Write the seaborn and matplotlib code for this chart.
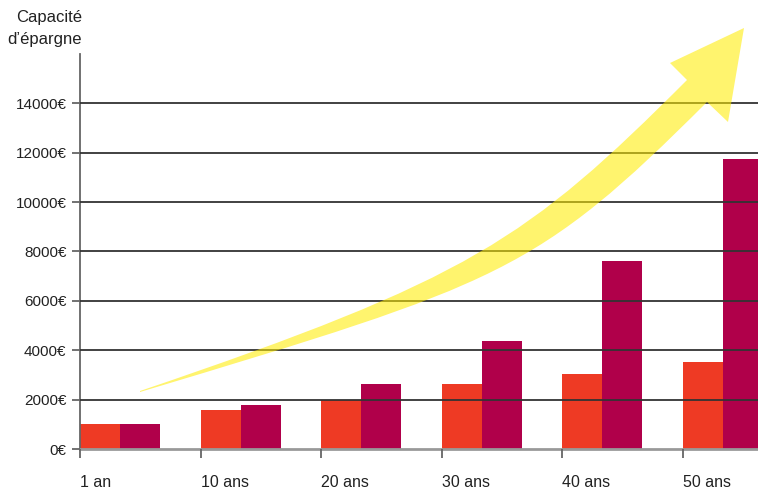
import numpy as np
import pandas as pd
import seaborn as sns
import matplotlib.pyplot as plt
from matplotlib.path import Path
from matplotlib.patches import PathPatch
from matplotlib.transforms import Affine2D

# Données
periodes = ['1 an', '10 ans', '20 ans', '30 ans', '40 ans', '50 ans']
serie_a = [1000, 1600, 2000, 2630, 3030, 3520]
serie_b = [1000, 1780, 2630, 4370, 7600, 11740]
y_ticks = [0, 2000, 4000, 6000, 8000, 10000, 12000, 14000]
y_labels = [f'{v}€' for v in y_ticks]

df = pd.DataFrame({
    'periode': periodes * 2,
    'valeur': serie_a + serie_b,
    'serie': ['a'] * len(periodes) + ['b'] * len(periodes),
})

sns.set_style('white')
plt.rcParams['font.family'] = ['Liberation Sans', 'DejaVu Sans']

fig = plt.figure(figsize=(7.58, 4.90), dpi=100)
ax = fig.add_axes([80 / 758, 41 / 490, 678 / 758, 395 / 490])

bar_w = 0.332
sns.barplot(data=df, x='periode', y='valeur', hue='serie',
            palette=['#ee3a24', '#b0004a'], width=2 * bar_w, gap=0,
            saturation=1, legend=False, linewidth=0, zorder=1, ax=ax)

ax.set_xlim(-bar_w, -bar_w + 678 / 120.6)
ax.set_ylim(0, 16000)
ax.set_xticks(np.arange(len(periodes)) - bar_w, periodes, ha='left')
ax.set_yticks(y_ticks, y_labels)
ax.set_xlabel('')
ax.set_ylabel('')

ax.set_axisbelow(False)
ax.yaxis.grid(True, color='#333333', linewidth=1.3)
ax.get_ygridlines()[0].set_visible(False)

sns.despine(ax=ax)
ax.spines['left'].set_color('#666666')
ax.spines['left'].set_linewidth(1.3)
ax.spines['bottom'].set_color('#999999')
ax.spines['bottom'].set_linewidth(2)

ax.tick_params(axis='x', length=6.5, width=1.3, color='#666666', pad=12.5,
               labelsize=11.5, labelcolor='#222222', bottom=True)
ax.tick_params(axis='y', length=5.8, width=1.3, color='#666666', pad=4,
               labelsize=11, labelcolor='#222222', left=True)

fig.text(82 / 758, 1 - 10 / 490, 'Capacité\nd’épargne', ha='right', va='top',
         fontsize=12, color='#222222', linespacing=1.55)

# flèche jaune décorative (coordonnées en pixels de l'image)
verts = [(140, 391), (470, 279), (527, 240), (687, 80), (670, 63), (744, 28),
         (728, 122), (707, 102), (537, 272), (500, 284), (140, 392), (140, 391)]
codes = [Path.MOVETO, Path.CURVE4, Path.CURVE4, Path.CURVE4, Path.LINETO,
         Path.LINETO, Path.LINETO, Path.LINETO, Path.CURVE4, Path.CURVE4,
         Path.CURVE4, Path.CLOSEPOLY]
px = Affine2D().scale(1 / 758, -1 / 490).translate(0, 1) + fig.transFigure
fleche = PathPatch(Path(verts, codes), facecolor='#ffec00', edgecolor='none',
                   alpha=0.57, transform=px, zorder=5)
fig.add_artist(fleche)

plt.savefig('out.png', dpi=100)
